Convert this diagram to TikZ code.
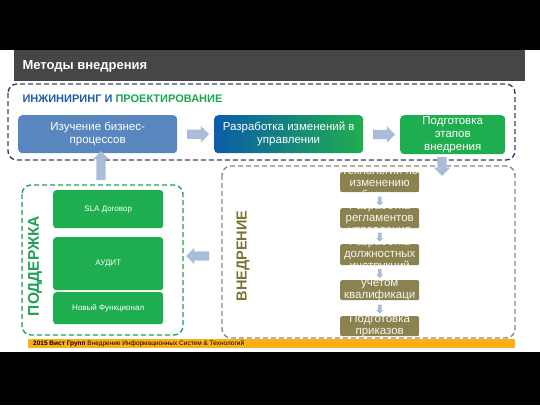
\documentclass[tikz,border=0pt]{standalone}
\usepackage{fontspec}
\setmainfont{Liberation Sans}
\usetikzlibrary{shapes.arrows,calc}

\definecolor{barGrey}{HTML}{464646}
\definecolor{engBlue}{HTML}{1D5FA6}
\definecolor{engGreen}{HTML}{1AA54F}
\definecolor{engNavy}{HTML}{35425F}
\definecolor{boxSteel}{HTML}{5A86C0}
\definecolor{boxBlue}{HTML}{0B5DA9}
\definecolor{boxGreen}{HTML}{1FAE4F}
\definecolor{supGreen}{HTML}{23A058}
\definecolor{impOlive}{HTML}{8A8350}
\definecolor{impLine}{HTML}{8E8A78}
\definecolor{impText}{HTML}{7A7436}
\definecolor{arrFill}{HTML}{AABCD7}
\definecolor{footOrange}{HTML}{FCAF17}

\tikzset{
  dashbox/.style={rounded corners=9pt, line width=1.4pt, dash pattern=on 5pt off 3pt},
  topbox/.style={rounded corners=4pt, text=white, align=center, anchor=north west,
    font=\fontsize{11.5}{13}\selectfont, inner sep=0pt},
  supbox/.style={rounded corners=3pt, fill=boxGreen, text=white, anchor=north west,
    minimum width=110pt, font=\fontsize{8}{9}\selectfont, inner sep=0pt},
  impbox/.style={rounded corners=2pt, fill=impOlive, anchor=north west,
    minimum width=79pt, inner sep=0pt},
  imptext/.style={text=white!92!impOlive, align=center,
    font=\fontsize{11.5}{12}\selectfont, inner sep=0pt},
  bigarrow/.style={single arrow, fill=arrFill, draw=none, inner xsep=0pt, inner ysep=4.5pt,
    minimum height=22pt, single arrow head extend=3.5pt,
    single arrow head indent=0pt},
  tinyarrow/.style={single arrow, fill=arrFill, draw=none, inner xsep=0pt, inner ysep=1.6pt,
    minimum height=9pt, single arrow head extend=1.8pt, rotate=-90},
}

\begin{document}
\begin{tikzpicture}[x=1pt,y=-1pt]
  \useasboundingbox (0,0) rectangle (540,405);
  % background bands
  \fill[black] (0,0) rectangle (540,50);
  \fill[black] (0,352) rectangle (540,405);
  \fill[barGrey] (14,50) rectangle (525,81);
  \node[anchor=west, text=white, font=\fontsize{13}{15}\selectfont\bfseries] (title) at (19,66) {Методы внедрения};

  % engineering block
  \draw[dashbox, engNavy] (8,84) rectangle (515,160);
  \node[anchor=west, font=\fontsize{11}{13}\selectfont\bfseries] (engTitle) at (19,99)
    {\textcolor{engBlue}{ИНЖИНИРИНГ И} \textcolor{engGreen}{ПРОЕКТИРОВАНИЕ}};
  \node[topbox, fill=boxSteel, minimum width=159pt, minimum height=38pt] (study) at (18,115)
    {Изучение бизнес-\\процессов};
  \node[topbox, shading=axis, left color=boxBlue, right color=boxGreen, minimum width=149pt,
    minimum height=38pt] (design) at (214,115) {Разработка изменений в\\управлении};
  \node[topbox, fill=boxGreen, minimum width=105pt, minimum height=39pt] (prep) at (400,115)
    {Подготовка\\этапов\\внедрения};
  \node[bigarrow] (a1) at ($(study.east)!0.5!(design.west)$) {};
  \node[bigarrow] (a2) at ($(design.east)!0.5!(prep.west)$) {};

  % support block
  \draw[dashbox, supGreen] (22,185) rectangle (183,335);
  \node[rotate=90, text=supGreen, font=\fontsize{15.5}{17}\selectfont\bfseries] (supTitle) at (35,266) {ПОДДЕРЖКА};
  \node[supbox, minimum height=38pt] (sla) at (53,190) {SLA Договор};
  \node[supbox, minimum height=53pt] (audit) at (53,237) {АУДИТ};
  \node[supbox, minimum height=32pt] (newf) at (53,292) {Новый Функционал};
  \node[bigarrow, rotate=90, minimum height=29pt] (a3) at (101,168) {};

  % implementation block
  \draw[dashbox, impLine] (222,166) rectangle (515,338);
  \node[rotate=90, text=impText, font=\fontsize{14.5}{16}\selectfont\bfseries] (impTitle) at (243,256) {ВНЕДРЕНИЕ};
  \node[bigarrow, rotate=-90, minimum height=19pt] (a4) at (442,164) {};
  \node[bigarrow, rotate=180, minimum height=23pt] (a5) at (200,256) {};

  \node[impbox, minimum height=20pt] (tech) at (340,172) {};
  \node[impbox, minimum height=20pt] (regl) at (340,208) {};
  \node[impbox, minimum height=21pt] (instr) at (340,244) {};
  \node[impbox, minimum height=20pt] (qual) at (340,280) {};
  \node[impbox, minimum height=20pt] (order) at (340,316) {};
  \begin{scope}
    \clip[rounded corners=2pt] (tech.south west) rectangle (tech.north east);
    \node[imptext] (techT) at (tech) {Технологии по\\изменению\\бизнес};
  \end{scope}
  \begin{scope}
    \clip[rounded corners=2pt] (regl.south west) rectangle (regl.north east);
    \node[imptext] (reglT) at (regl) {Разработка\\регламентов\\управления};
  \end{scope}
  \begin{scope}
    \clip[rounded corners=2pt] (instr.south west) rectangle (instr.north east);
    \node[imptext] (instrT) at (instr) {Разработка\\должностных\\инструкций};
  \end{scope}
  \begin{scope}
    \clip[rounded corners=2pt] (qual.south west) rectangle (qual.north east);
    \node[imptext] (qualT) at (qual) {учетом\\квалификаци};
  \end{scope}
  \begin{scope}
    \clip[rounded corners=2pt] (order.south west) rectangle (order.north east);
    \node[imptext] (orderT) at (order) {Подготовка\\приказов};
  \end{scope}
  \node[tinyarrow] (s1) at ($(tech.south)!0.5!(regl.north)$) {};
  \node[tinyarrow] (s2) at ($(regl.south)!0.5!(instr.north)$) {};
  \node[tinyarrow] (s3) at ($(instr.south)!0.5!(qual.north)$) {};
  \node[tinyarrow] (s4) at ($(qual.south)!0.5!(order.north)$) {};

  % footer
  \fill[footOrange] (28,339) rectangle (515,348);
  \node[anchor=west, font=\fontsize{6.5}{7}\selectfont, inner sep=0pt] (foot) at (33,343.5)
    {\textbf{2015 Вист Групп} Внедрение Информационных Систем \& Технологий};
\end{tikzpicture}
\end{document}
